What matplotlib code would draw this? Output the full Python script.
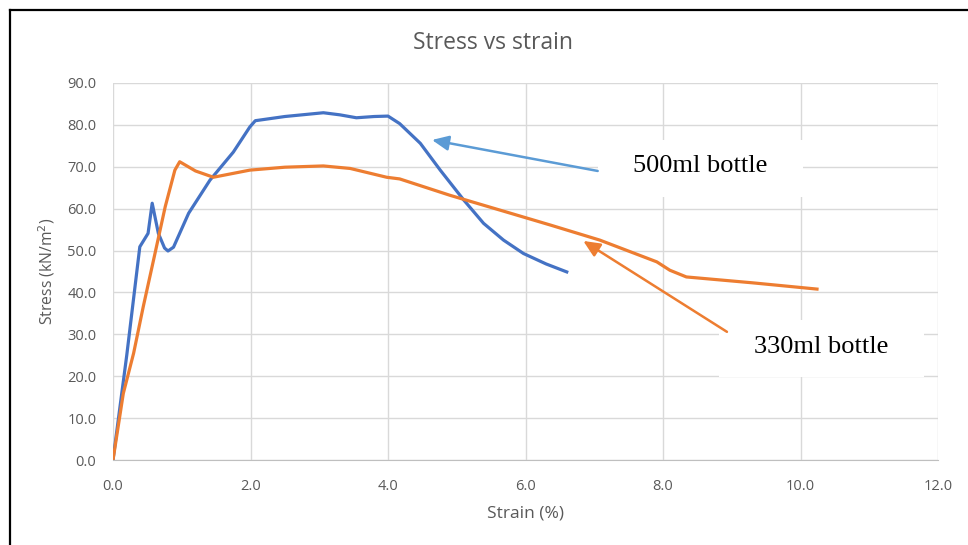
import matplotlib
matplotlib.use("Agg")
import matplotlib.pyplot as plt
from matplotlib.lines import Line2D
from matplotlib.patches import Rectangle

plt.rcParams['font.family'] = ['Open Sans', 'DejaVu Sans']

# strain (%) / stress (kN/m2)
strain_500 = [0.0, 0.20, 0.39, 0.51, 0.57, 0.66, 0.75, 0.80, 0.88, 1.10, 1.41, 1.75, 1.99, 2.07,
              2.50, 3.06, 3.30, 3.54, 3.80, 4.00, 4.17, 4.47, 4.76, 5.10, 5.39, 5.68, 5.97, 6.30, 6.60]
stress_500 = [0.0, 25.0, 50.9, 54.1, 61.3, 54.1, 50.6, 49.9, 50.8, 58.9, 66.8, 73.5, 79.5, 81.0,
              82.0, 82.9, 82.4, 81.7, 82.0, 82.1, 80.3, 75.6, 69.2, 62.1, 56.5, 52.5, 49.3, 46.8, 44.9]

strain_330 = [0.0, 0.15, 0.30, 0.44, 0.60, 0.76, 0.90, 0.97, 1.20, 1.46, 1.99, 2.50, 3.06,
              3.45, 3.98, 4.17, 4.90, 6.36, 7.08, 7.91, 8.10, 8.34, 9.30, 10.24]
stress_330 = [0.0, 15.9, 25.5, 36.6, 48.5, 60.5, 69.2, 71.2, 69.0, 67.5, 69.2, 69.9, 70.2,
              69.6, 67.5, 67.1, 63.2, 56.1, 52.5, 47.3, 45.3, 43.7, 42.3, 40.8]

x_ticks = [0, 2, 4, 6, 8, 10, 12]
y_ticks = [0, 10, 20, 30, 40, 50, 60, 70, 80, 90]

BLUE = "#4472C4"
ORANGE = "#ED7D31"
LIGHT_BLUE = "#5B9BD5"
GREY = "#595959"

fig = plt.figure(figsize=(9.68, 5.45), dpi=100)
ax = fig.add_axes([113 / 968, 1 - 460 / 545, 825 / 968, 377 / 545])

ax.plot(strain_500, stress_500, color=BLUE, lw=2.3, solid_joinstyle="round", zorder=3)
ax.plot(strain_330, stress_330, color=ORANGE, lw=2.3, solid_joinstyle="round", zorder=3)

ax.set_xlim(0, 12)
ax.set_ylim(0, 90)
ax.set_xticks(x_ticks)
ax.set_yticks(y_ticks)
ax.set_xticklabels([f"{v:.1f}" for v in x_ticks])
ax.set_yticklabels([f"{v:.1f}" for v in y_ticks])
ax.tick_params(length=0, colors=GREY, labelsize=10.5)
ax.tick_params(axis="y", pad=12)
ax.tick_params(axis="x", pad=14)
ax.grid(True, color="#D9D9D9", lw=1.0)
ax.set_axisbelow(True)
for s in ["top", "right", "left"]:
    ax.spines[s].set_visible(False)
ax.spines["bottom"].set_color("#BFBFBF")
ax.spines["bottom"].set_zorder(2)

ax.set_xlabel("Strain (%)", color=GREY, fontsize=12.5, labelpad=8)
ax.set_ylabel("Stress (kN/m$^2$)", color=GREY, fontsize=11.3, labelpad=7)
fig.text(493 / 968, 1 - 43 / 545, "Stress vs strain", color=GREY, fontsize=16.5,
         ha="center", va="center")

# annotation boxes (white, they hide the gridlines) and arrows
ax.add_patch(Rectangle((7.05, 62.8), 2.99, 13.6, facecolor="white", edgecolor="none", zorder=2.5))
ax.add_patch(Rectangle((8.81, 19.8), 2.99, 13.6, facecolor="white", edgecolor="none", zorder=2.5))
ax.text(8.54, 70.2, "500ml bottle", family="Liberation Serif", fontsize=19,
        ha="center", va="center", zorder=4)
ax.text(10.30, 26.9, "330ml bottle", family="Liberation Serif", fontsize=19,
        ha="center", va="center", zorder=4)
ax.annotate("", xy=(4.64, 76.4), xytext=(7.05, 69.0),
            arrowprops=dict(arrowstyle="-|>,head_length=1.0,head_width=0.45",
                            color=LIGHT_BLUE, lw=1.8, shrinkA=0, shrinkB=0), zorder=4)
ax.annotate("", xy=(6.84, 52.3), xytext=(8.93, 30.6),
            arrowprops=dict(arrowstyle="-|>,head_length=1.0,head_width=0.45",
                            color=ORANGE, lw=1.8, shrinkA=0, shrinkB=0), zorder=4)

# black frame on the left and top of the picture
fig.add_artist(Line2D([10 / 968, 10 / 968], [0, 1 - 10 / 545], color="black", lw=1.6))
fig.add_artist(Line2D([10 / 968, 1], [1 - 10 / 545, 1 - 10 / 545], color="black", lw=1.6))

fig.savefig("out.png", dpi=100)
